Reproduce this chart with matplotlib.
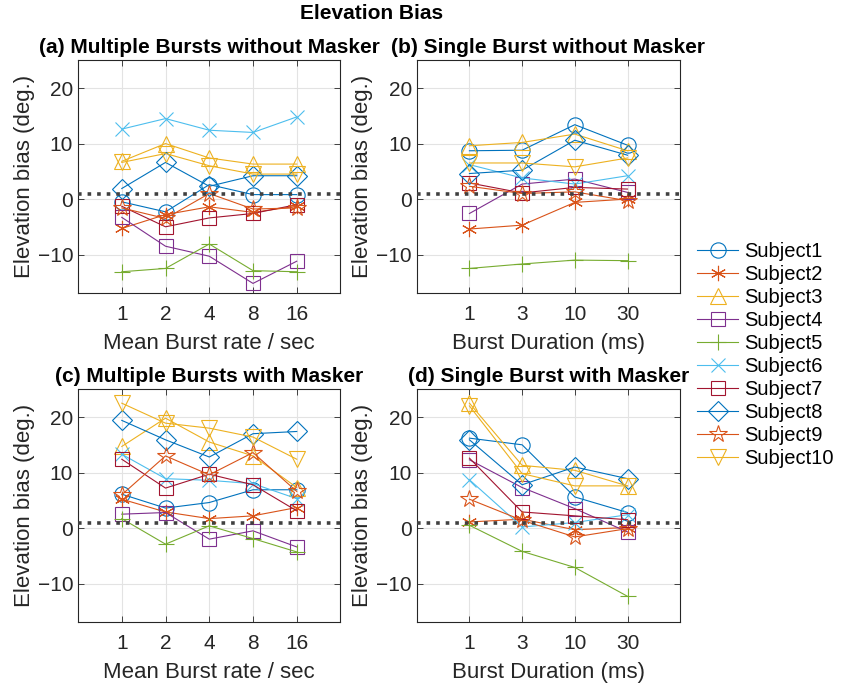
import matplotlib
matplotlib.use('Agg')
import matplotlib.pyplot as plt

plt.rcParams['font.family'] = ['Liberation Sans', 'DejaVu Sans']

# x categories
rate_labels = ['1', '2', '4', '8', '16']
dur_labels = ['1', '3', '10', '30']

subjects = ['Subject%d' % i for i in range(1, 11)]

# (a) Multiple Bursts without Masker
a_vals = [
    [-0.5, -2.3, 2.6, 0.8, 0.8],
    [-5.3, -2.8, -1.4, -2.4, -1.3],
    [6.8, 10.0, 7.4, 6.3, 6.3],
    [-3.3, -8.5, -10.3, -15.2, -11.2],
    [-13.1, -12.5, -8.1, -12.9, -13.1],
    [12.6, 14.5, 12.4, 12.0, 14.8],
    [-1.3, -5.0, -3.4, -2.6, -1.0],
    [1.9, 6.6, 2.3, 4.2, 4.2],
    [-1.6, -3.5, 1.0, -1.8, -1.6],
    [6.6, 8.2, 6.0, 4.5, 4.5],
]

# (b) Single Burst without Masker
b_vals = [
    [8.7, 8.8, 13.4, 9.7],
    [-5.4, -4.7, -0.6, 0.0],
    [9.6, 10.2, 11.7, 8.7],
    [-2.6, 2.7, 3.6, 1.2],
    [-12.5, -11.7, -11.0, -11.1],
    [6.2, 3.8, 2.7, 4.2],
    [2.9, 1.1, 2.1, 1.8],
    [4.6, 5.2, 10.6, 7.9],
    [2.3, 1.0, 1.3, -0.3],
    [6.5, 6.5, 5.8, 7.4],
]

# (c) Multiple Bursts with Masker
c_vals = [
    [6.1, 3.6, 4.6, 6.9, 6.9],
    [5.2, 2.9, 1.7, 2.2, 3.7],
    [14.7, 19.8, 15.5, 13.0, 7.3],
    [2.5, 2.8, -2.0, -0.5, -3.4],
    [1.7, -2.9, 0.4, -1.9, -4.3],
    [13.3, 8.9, 8.6, 8.0, 5.3],
    [12.4, 7.2, 9.7, 7.8, 3.1],
    [19.4, 15.9, 12.8, 17.0, 17.4],
    [6.0, 13.0, 9.6, 13.6, 6.6],
    [22.5, 18.9, 18.0, 16.4, 12.4],
]

# (d) Single Burst with Masker
d_vals = [
    [16.2, 15.0, 5.6, 2.8],
    [1.1, 1.6, -0.3, 0.1],
    [22.5, 11.3, 10.4, 7.6],
    [12.3, 7.3, 3.5, -0.7],
    [0.5, -4.2, -7.1, -12.3],
    [8.7, 0.2, 1.0, 2.4],
    [12.6, 2.9, 2.2, 1.5],
    [15.9, 7.8, 11.0, 8.9],
    [5.2, 1.4, -1.6, -0.1],
    [22.0, 9.8, 7.6, 7.6],
]

ref_level = 1

colors = ['#0072BD', '#D95319', '#EDB120', '#7E2F8E', '#77AC30',
          '#4DBEEE', '#A2142F', '#0072BD', '#D95319', '#EDB120']
# MATLAB-like markers: asterisk for '*', star for 'p'
markers = ['o', (6, 2, 0), '^', 's', '+', 'x', 's', 'D', '*', 'v']
msizes = [11, 11, 11, 10, 11, 10, 10, 10, 13, 11]

fig = plt.figure(figsize=(8.51, 6.86), dpi=100)

panels = [
    ([0.0917, 0.5723, 0.3084, 0.3398], a_vals, rate_labels,
     '(a) Multiple Bursts without Masker', 'Mean Burst rate / sec'),
    ([0.4897, 0.5723, 0.3096, 0.3398], b_vals, dur_labels,
     '(b) Single Burst without Masker', 'Burst Duration (ms)'),
    ([0.0917, 0.0927, 0.3084, 0.3398], c_vals, rate_labels,
     '(c) Multiple Bursts with Masker', 'Mean Burst rate / sec'),
    ([0.4897, 0.0927, 0.3096, 0.3398], d_vals, dur_labels,
     '(d) Single Burst with Masker', 'Burst Duration (ms)'),
]

axc = '#262626'
handles = []
for pos, vals, xlabels, title, xlabel in panels:
    ax = fig.add_axes(pos)
    xs = list(range(1, len(xlabels) + 1))
    hs = []
    for i, v in enumerate(vals):
        h, = ax.plot(xs, v, color=colors[i], marker=markers[i], ms=msizes[i],
                     mfc='none', mew=0.8, lw=0.8, label=subjects[i])
        hs.append(h)
    handles = hs
    ax.axhline(ref_level, color='#404040', ls=':', lw=2.6, zorder=5)
    ax.set_xlim(0, len(xlabels) + 1)
    ax.set_ylim(-17, 25)
    ax.set_xticks(xs)
    ax.set_xticklabels(xlabels)
    ax.set_yticks([-10, 0, 10, 20])
    ax.grid(True, color='#e3e3e3', lw=0.8)
    ax.set_axisbelow(True)
    ax.tick_params(direction='in', top=True, right=True, labelsize=15,
                   colors=axc, length=4, width=0.6)
    ax.tick_params(axis='x', pad=8)
    for s in ax.spines.values():
        s.set_color(axc)
        s.set_linewidth(0.8)
    ax.set_title(title, fontsize=15, fontweight='bold', pad=5)
    ax.set_xlabel(xlabel, fontsize=16, color=axc, labelpad=7)
    ax.set_ylabel('Elevation bias (deg.)', fontsize=16, color=axc, labelpad=2)

fig.text(0.437, 0.994, 'Elevation Bias', ha='center', va='top',
         fontsize=15, fontweight='bold')

fig.legend(handles=handles, loc='center left', bbox_to_anchor=(0.81, 0.482),
           frameon=False, fontsize=14.5, handlelength=2.0, handletextpad=0.3,
           labelspacing=0.2, borderaxespad=0)

fig.savefig('out.png', dpi=100)
